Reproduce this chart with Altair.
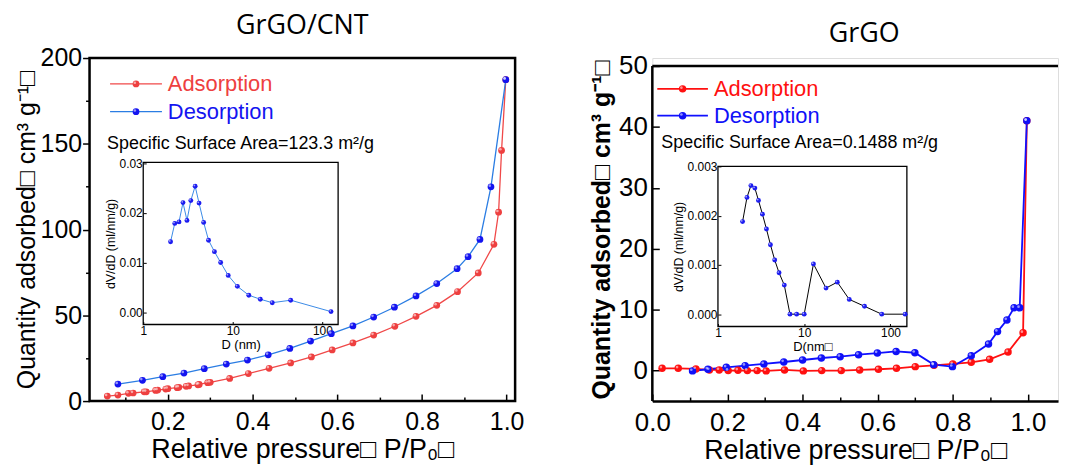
import altair as alt
import pandas as pd

# ---------------- data ----------------
SERIES = ["Adsorption", "Desorption"]

# GrGO/CNT isotherm
cnt_ads_p = [0.057, 0.082, 0.107, 0.118, 0.144, 0.149, 0.171, 0.176, 0.195, 0.200, 0.222, 0.226,
             0.243, 0.249, 0.271, 0.274, 0.294, 0.300, 0.346, 0.390, 0.439, 0.490, 0.539, 0.588,
             0.637, 0.686, 0.736, 0.786, 0.835, 0.884, 0.933, 0.970, 0.981, 0.988, 0.998]
cnt_ads_q = [2.9, 3.5, 4.5, 4.7, 5.4, 5.4, 6.2, 6.4, 7.0, 7.2, 7.8, 8.0,
             8.6, 8.8, 9.5, 9.7, 10.7, 10.9, 13.2, 16.0, 19.1, 22.2, 25.7, 29.8,
             33.9, 38.5, 43.6, 49.4, 55.8, 63.8, 74.7, 91.4, 110.1, 146.1, 187.4]
cnt_des_p = [0.998, 0.963, 0.937, 0.909, 0.883, 0.835, 0.786, 0.735, 0.686, 0.637, 0.586,
             0.537, 0.488, 0.437, 0.388, 0.338, 0.286, 0.238, 0.188, 0.140, 0.082]
cnt_des_q = [187.4, 124.9, 94.2, 84.2, 77.2, 68.5, 61.3, 54.7, 49.0, 43.8, 39.3,
             35.0, 30.7, 27.0, 23.9, 21.6, 18.9, 16.3, 14.2, 12.1, 9.9]
# GrGO/CNT pore size distribution (inset)
cnt_psd_d = [2.02, 2.25, 2.51, 2.78, 3.08, 3.40, 3.80, 4.20, 4.73, 5.36, 6.24, 7.32, 8.89,
             11.25, 15.1, 20.3, 27.6, 44.3, 125]
cnt_psd_v = [0.0142, 0.0179, 0.0182, 0.0221, 0.0185, 0.0225, 0.0254, 0.0220, 0.0181, 0.0145,
             0.0122, 0.0100, 0.0074, 0.0052, 0.0034, 0.0026, 0.0019, 0.0024, 0.0001]

# GrGO isotherm
go_ads_p = [0.026, 0.069, 0.116, 0.152, 0.178, 0.202, 0.228, 0.253, 0.279, 0.303, 0.352, 0.402,
            0.451, 0.503, 0.552, 0.602, 0.650, 0.700, 0.750, 0.800, 0.849, 0.898, 0.947, 0.987, 0.997]
go_ads_q = [0.38, 0.38, 0.27, 0.11, 0.11, 0.0, 0.05, 0.0, 0.0, -0.05, 0.11, -0.05,
            0.0, 0.0, 0.11, 0.22, 0.38, 0.65, 0.87, 1.09, 1.36, 1.85, 3.04, 6.20, 41.0]
go_des_p = [0.997, 0.978, 0.963, 0.944, 0.919, 0.895, 0.849, 0.799, 0.749, 0.699, 0.649,
            0.599, 0.549, 0.500, 0.450, 0.400, 0.350, 0.297, 0.247, 0.197, 0.148, 0.107]
go_des_q = [41.0, 10.3, 10.3, 8.3, 6.4, 4.35, 2.45, 0.65, 0.98, 2.93, 3.15,
            2.88, 2.61, 2.28, 2.07, 1.74, 1.41, 1.09, 0.82, 0.54, 0.22, -0.05]
# GrGO pore size distribution (inset)
go_psd_d = [1.93, 2.17, 2.41, 2.68, 2.95, 3.28, 3.65, 4.06, 4.55, 5.11, 5.88, 6.84, 8.17, 10.0,
            12.8, 17.9, 24.2, 33.3, 50.0, 79.3, 148]
go_psd_v = [0.00188, 0.00237, 0.00261, 0.00256, 0.00231, 0.00203, 0.00173, 0.00141, 0.00110,
            0.00084, 0.00059, 0.0, 0.0, 0.0, 0.00102, 0.00053, 0.00065, 0.00030, 0.00016, 0.0, 0.0]

# ---------------- styling ----------------
FONT = "Liberation Sans"
TFONT = "Open Sans"
BOX = "\u25a1"
YTITLE = "Quantity adsorbed" + BOX + " cm\u00b3 g\u207b\u00b9" + BOX
XTITLE = "Relative pressure" + BOX + " P/P\u2080" + BOX


def iso_frame(ads_p, ads_q, des_p, des_q):
    rows = []
    for i, (p, q) in enumerate(zip(ads_p, ads_q)):
        rows.append({"p": p, "q": q, "series": "Adsorption", "idx": i})
    for i, (p, q) in enumerate(zip(des_p, des_q)):
        rows.append({"p": p, "q": q, "series": "Desorption", "idx": i})
    df = pd.DataFrame(rows)
    df["curve"] = df["series"]
    return df


def one_row():
    return pd.DataFrame({"a": [0]})


def panel(cfg):
    W, H = cfg["W"], cfg["H"]
    df = iso_frame(*cfg["iso"])
    xs = alt.Scale(domain=cfg["xdom"], nice=False, zero=False)
    ys = alt.Scale(domain=cfg["ydom"], nice=False, zero=False)

    xaxis = alt.Axis(
        orient="bottom",
        values=cfg["xvals"],
        labelExpr="round(datum.value*10) % 2 == 0 ? format(datum.value, '.1f') : ''",
        labelFlush=False,
        tickSize={"expr": "round(datum.value*10) % 2 == 0 ? -7 : -4"},
        tickWidth=1.5, tickColor="black",
        domain=cfg["xdomain_line"], domainColor="black", domainWidth=2.5,
        grid=False, labelFont=FONT, labelFontSize=cfg["tick_fs"], labelColor="black",
        labelPadding=cfg["xlabpad"],
        title=XTITLE, titleFont=FONT, titleFontSize=27, titleFontWeight="normal",
        titleColor="black", titlePadding=cfg["xtitlepad"])
    yaxis = alt.Axis(
        orient="left",
        values=cfg["yvals"],
        labelExpr="datum.value %% %d == 0 ? datum.label : ''" % cfg["ymajor"],
        tickSize={"expr": "datum.value %% %d == 0 ? %d : %d" % (cfg["ymajor"], cfg["ytick"][0], cfg["ytick"][1])},
        tickWidth=1.5, tickColor="black", domain=False, grid=False,
        labelFont=FONT, labelFontSize=cfg["tick_fs"], labelColor="black",
        labelPadding=cfg["ylabpad"],
        title=YTITLE, titleFont=FONT, titleFontSize=cfg["ytitle_fs"],
        titleFontWeight=cfg["ytitle_fw"], titleColor="black", titlePadding=cfg["ytitlepad"])

    stroke_scale = alt.Scale(domain=SERIES, range=cfg["line_colors"])
    color_scale = alt.Scale(domain=SERIES, range=cfg["marker_colors"])

    lines = alt.Chart(df).mark_line(strokeWidth=cfg["lw"]).encode(
        x=alt.X("p:Q", scale=xs, axis=xaxis),
        y=alt.Y("q:Q", scale=ys, axis=yaxis),
        stroke=alt.Stroke("curve:N", scale=stroke_scale, legend=None),
        order="idx:Q",
    )
    pts = alt.Chart(df).mark_circle(size=cfg["msize"], opacity=1).encode(
        x="p:Q", y="q:Q",
        color=alt.Color("series:N", scale=color_scale, legend=None),
    )
    shine = alt.Chart(df).mark_circle(size=7, opacity=0.55, color="white", xOffset=-1.2, yOffset=-1.2).encode(
        x="p:Q", y="q:Q")
    note = alt.Chart(pd.DataFrame({"t": [cfg["note"]]})).mark_text(
        align="left", baseline="alphabetic", font=FONT, fontSize=18, color="black").encode(
        x=alt.datum(cfg["note_xy"][0]), y=alt.datum(cfg["note_xy"][1]), text="t:N")

    # ---- legend (line + dot + coloured label), placed in data units of the main axes ----
    lg = cfg["leg"]
    ldf = pd.DataFrame({"series": SERIES, "curve": SERIES, "y": lg["ys"]})
    ldf["x0"], ldf["x1"], ldf["tx"] = lg["x0"], lg["x1"], lg["tx"]
    ldf["xm"] = (lg["x0"] + lg["x1"]) / 2
    leg_line = alt.Chart(ldf).mark_rule(strokeWidth=cfg["lw"]).encode(
        x="x0:Q", x2="x1:Q", y="y:Q", stroke=alt.Stroke("curve:N", scale=stroke_scale, legend=None))
    leg_dot = alt.Chart(ldf).mark_circle(size=cfg["msize"], opacity=1).encode(
        x="xm:Q", y="y:Q", color=alt.Color("series:N", scale=color_scale, legend=None))
    leg_shine = alt.Chart(ldf).mark_circle(size=7, opacity=0.55, color="white", xOffset=-1.2, yOffset=-1.2).encode(
        x="xm:Q", y="y:Q")
    leg_text = alt.Chart(ldf).mark_text(align="left", baseline="middle", font=FONT, fontSize=22).encode(
        x="tx:Q", y="y:Q", text="series:N",
        color=alt.Color("series:N", scale=color_scale, legend=None))

    main_layers = [lines, pts, shine, note, leg_line, leg_dot, leg_shine, leg_text] + cfg["frame"]
    main = alt.layer(*main_layers)

    # ---- inset (pore size distribution) ----
    ins = cfg["inset"]
    idf = pd.DataFrame({"d": ins["d"], "v": ins["v"]})
    ixs = alt.Scale(type="log", domain=ins["xdom"], range=ins["xr"], nice=False)
    iys = alt.Scale(domain=ins["ydom"], range=ins["yr"], nice=False, zero=False)
    ixaxis = alt.Axis(orient="bottom", offset=ins["xr_off"], values=[1, 10, 100], format="d",
                      labelFlush=False,
                      tickSize={"expr": "-3"}, tickColor="black", domain=False, grid=False,
                      labelFont=FONT, labelFontSize=12, labelColor="black", labelPadding=4,
                      title=ins["xtitle"], titleFont=FONT, titleFontSize=13, titleFontWeight="normal",
                      titleColor="black", titlePadding=2)
    iyaxis = alt.Axis(orient="left", offset=ins["yr_off"], values=ins["yvals"], format=ins["yfmt"],
                      tickSize={"expr": "-3"}, tickColor="black", domain=False, grid=False,
                      labelFont=FONT, labelFontSize=12, labelColor="black", labelPadding=4,
                      title="dV/dD (ml/nm/g)", titleFont=FONT, titleFontSize=12.5,
                      titleFontWeight="normal", titleColor="black", titlePadding=2)
    box = alt.Chart(one_row()).mark_rect(
        fill="transparent", stroke="black", strokeWidth=1.3).encode(
        x=alt.X(datum=ins["xdom"][0], scale=ixs, axis=ixaxis),
        x2=alt.X2(datum=ins["xdom"][1]),
        y=alt.Y(datum=ins["ydom"][0], scale=iys, axis=iyaxis),
        y2=alt.Y2(datum=ins["ydom"][1]))
    iline = alt.Chart(idf).mark_line(color=ins["line_color"], strokeWidth=1).encode(x="d:Q", y="v:Q")
    ipts = alt.Chart(idf).mark_circle(size=24, opacity=1, color="#1c1cf0").encode(x="d:Q", y="v:Q")
    ishine = alt.Chart(idf).mark_circle(size=3, opacity=0.6, color="white", xOffset=-0.8, yOffset=-0.8).encode(
        x="d:Q", y="v:Q")
    inset = alt.layer(box, iline, ipts, ishine)

    return alt.layer(main, inset).resolve_scale(x="independent", y="independent").properties(
        width=W, height=H,
        title=alt.Title(cfg["title"], font=TFONT, fontSize=27, fontWeight="normal",
                        color="black", anchor="middle", offset=cfg["title_off"], dx=cfg["title_dx"]))


tenths_left = [round(0.1 * i, 1) for i in range(1, 11)]
tenths_right = [round(0.1 * i, 1) for i in range(0, 11)]

RIGHT_XMAX = 1.08

left_frame = [
    alt.Chart(one_row()).mark_rect(fill="transparent", stroke="black", strokeWidth=2.5).encode(
        x=alt.datum(0.015), x2=alt.datum(1.02), y=alt.datum(0), y2=alt.datum(200)),
]
right_frame = [
    alt.Chart(one_row()).mark_rule(color="black", strokeWidth=2.5).encode(
        x=alt.datum(0), x2=alt.datum(RIGHT_XMAX), y=alt.datum(50)),
    alt.Chart(one_row()).mark_rule(color="black", strokeWidth=2.5).encode(
        x=alt.datum(0), y=alt.datum(-5), y2=alt.datum(50)),
]

left_cfg = dict(
    W=428, H=345, iso=(cnt_ads_p, cnt_ads_q, cnt_des_p, cnt_des_q),
    xdom=[0.015, 1.02], ydom=[0, 200], xvals=tenths_left, yvals=list(range(0, 201, 25)),
    ymajor=50, ytick=(7, 4), tick_fs=25, xlabpad=16, ylabpad=1, xtitlepad=2, ytitlepad=1,
    ytitle_fs=25, ytitle_fw="normal", xdomain_line=False,
    lw=1.3, line_colors=["#f04848", "#2b7de3"], marker_colors=["#ee4040", "#1414f0"], msize=46,
    leg=dict(x0=0.0635, x1=0.186, tx=0.2, ys=[184.9, 168.7]),
    note="Specific Surface Area=123.3 m\u00b2/g", note_xy=(0.0565, 146.7),
    title="GrGO/CNT", title_off=6, title_dx=0, frame=left_frame,
    inset=dict(d=cnt_psd_d, v=cnt_psd_v, xdom=[1, 150], xr=[54, 250], ydom=[-0.0025, 0.0302],
               yr=[268, 105], xr_off=-77, yr_off=-54, yvals=[0, 0.01, 0.02, 0.03], yfmt=".2f",
               xtitle="D (nm)", line_color="#3a8ae6"),
)

right_cfg = dict(
    W=408, H=345, iso=(go_ads_p, go_ads_q, go_des_p, go_des_q),
    xdom=[0, RIGHT_XMAX], ydom=[-5, 51.3], xvals=tenths_right, yvals=list(range(0, 51, 5)),
    ymajor=10, ytick=(-7, -4), tick_fs=26, xlabpad=16, ylabpad=12, xtitlepad=2, ytitlepad=4,
    ytitle_fs=25, ytitle_fw="bold", xdomain_line=True,
    lw=1.8, line_colors=["#ff1010", "#1010ff"], marker_colors=["#ff1010", "#1010f8"], msize=56,
    leg=dict(x0=0.0132, x1=0.148, tx=0.164, ys=[46.24, 41.83]),
    note="Specific Surface Area=0.1488 m\u00b2/g", note_xy=(0.024, 36.6),
    title="GrGO", title_off=5, title_dx=9, frame=right_frame,
    inset=dict(d=go_psd_d, v=go_psd_v, xdom=[1, 155], xr=[66, 256], ydom=[-0.00025, 0.003],
               yr=[270, 109], xr_off=-75, yr_off=-66, yvals=[0, 0.001, 0.002, 0.003], yfmt=".3f",
               xtitle="D(nm" + BOX, line_color="black"),
)

left = panel(left_cfg)
right = panel(right_cfg)

chart = alt.hconcat(left, right, spacing=64).resolve_scale(
    x="independent", y="independent", color="independent", stroke="independent"
).properties(
    padding={"left": 5, "top": 2, "right": 0, "bottom": 0}
).configure_view(stroke=None).configure(background="white")

chart.save("out.html", embed_options={"renderer": "svg", "actions": False})
